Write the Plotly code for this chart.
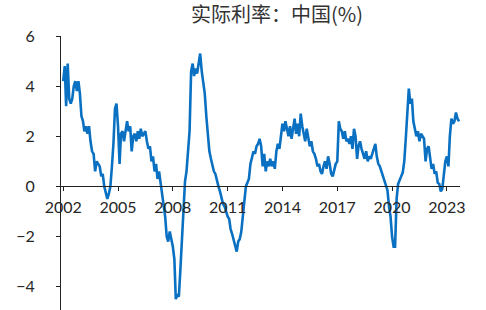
import pandas as pd
import plotly.graph_objects as go

# Monthly real interest rate, China (%), Jan 2002 - Sep 2023
start_month = "2002-01-01"
v2002 = [4.2, 4.8, 3.2, 4.9, 3.5, 3.3, 3.5, 4.0, 4.2, 3.8, 4.2, 3.7]
v2003 = [2.8, 2.6, 2.2, 2.4, 2.1, 2.4, 1.8, 1.4, 1.3, 0.6, 1.0, 0.9]
v2004 = [0.8, 0.4, 0.5, 0.0, -0.2, -0.5, -0.3, 0.0, 0.8, 1.7, 3.1, 3.3]
v2005 = [2.4, 0.9, 2.1, 2.2, 1.8, 2.3, 2.6, 2.2, 2.4, 1.4, 2.0, 2.1]
v2006 = [1.8, 2.2, 1.9, 2.3, 2.0, 2.1, 2.2, 1.8, 1.5, 1.6, 1.0, 1.2]
v2007 = [0.6, 0.9, 0.3, 0.6, 0.1, -0.2, -0.7, -1.2, -2.0, -2.2, -1.8, -2.1]
v2008 = [-2.4, -2.9, -4.5, -4.3, -4.4, -3.3, -2.0, -0.8, 0.2, 0.6, 1.5, 2.2]
v2009 = [4.6, 4.9, 4.4, 4.7, 4.5, 4.9, 5.3, 4.6, 4.2, 3.7, 2.8, 2.0]
v2010 = [1.4, 1.1, 0.8, 0.6, 0.5, 0.2, 0.0, -0.2, -0.5, -0.7, -0.8, -1.0]
v2011 = [-1.2, -1.3, -1.7, -1.9, -2.1, -2.4, -2.6, -2.2, -2.1, -1.8, -1.3, -0.6]
v2012 = [0.0, 0.2, 0.3, 0.9, 1.1, 1.4, 1.3, 1.6, 1.7, 1.9, 1.6, 0.8]
v2013 = [1.3, 0.6, 1.0, 0.8, 1.1, 0.8, 1.0, 0.7, 1.4, 1.7, 1.5, 2.1]
v2014 = [2.5, 2.2, 2.6, 2.3, 2.0, 2.4, 1.9, 2.3, 2.7, 2.1, 2.5, 2.0]
v2015 = [2.9, 2.4, 2.1, 1.8, 2.3, 1.9, 1.6, 1.8, 1.4, 1.3, 1.1, 0.8]
v2016 = [0.9, 0.6, 0.5, 0.8, 1.0, 0.7, 1.2, 0.9, 0.5, 0.4, 0.7, 0.9]
v2017 = [1.0, 2.6, 2.3, 2.2, 1.9, 2.2, 1.8, 1.9, 1.7, 2.0, 1.5, 2.3]
v2018 = [2.0, 1.1, 1.6, 1.8, 1.5, 1.3, 1.1, 1.4, 1.0, 1.2, 1.1, 1.3]
v2019 = [1.5, 1.7, 1.2, 0.9, 0.8, 0.6, 0.4, 0.25, 0.1, -0.15, -0.8, -1.2]
v2020 = [-2.0, -2.4, -2.4, -0.5, 0.1, 0.3, 0.4, 0.55, 1.0, 1.9, 3.2, 3.9]
v2021 = [3.3, 3.5, 2.6, 2.2, 2.0, 2.2, 1.8, 2.1, 2.0, 1.9, 1.0, 1.5]
v2022 = [1.6, 1.0, 0.7, 0.9, 0.5, 0.6, 0.15, 0.1, -0.2, -0.1, 0.4, 1.0]
v2023 = [1.2, 0.8, 2.0, 2.7, 2.5, 2.6, 2.95, 2.7, 2.6]

values = (v2002 + v2003 + v2004 + v2005 + v2006 + v2007 + v2008 + v2009 + v2010
          + v2011 + v2012 + v2013 + v2014 + v2015 + v2016 + v2017 + v2018 + v2019
          + v2020 + v2021 + v2022 + v2023)
dates = pd.date_range(start_month, periods=len(values), freq="MS")

tick_years = [2002, 2005, 2008, 2011, 2014, 2017, 2020, 2023]
y_ticks = [-4, -2, 0, 2, 4, 6]
y_tick_text = ["\u22124", "\u22122", "0", "2", "4", "6"]
title_text = "实际利率：中国(%)"

y_lo, y_hi = -4.93, 6

fig = go.Figure()
fig.add_trace(go.Scatter(
    x=dates, y=values, mode="lines",
    line=dict(color="#0A70C2", width=2.6),
    hoverinfo="skip",
))

axis_color = "#222222"
tick_font = dict(family="Lato, 'Open Sans', sans-serif", size=16, color="#262626")

fig.update_layout(
    width=486, height=310,
    margin=dict(l=61, r=26, t=36, b=0),
    paper_bgcolor="white", plot_bgcolor="white",
    showlegend=False,
    title=dict(
        text=title_text, x=277 / 486, xanchor="center", y=1 - 15 / 310, yanchor="middle",
        font=dict(family="Noto Sans CJK SC", size=20, color="#333333"),
    ),
    xaxis=dict(
        type="date",
        range=["2001-11-18", "2023-09-20"],
        tickmode="array",
        tickvals=[f"{y}-01-01" for y in tick_years],
        ticktext=[str(y) for y in tick_years],
        showgrid=False, zeroline=False,
        showline=True, linecolor=axis_color, linewidth=1,
        ticks="outside", ticklen=4, tickcolor=axis_color, tickwidth=1,
        tickfont=tick_font,
        anchor="free", position=(0 - y_lo) / (y_hi - y_lo),
        ticklabelstandoff=2,
    ),
    yaxis=dict(
        range=[y_lo, y_hi],
        tickmode="array", tickvals=y_ticks, ticktext=y_tick_text,
        showgrid=False, zeroline=False,
        showline=True, linecolor=axis_color, linewidth=1,
        ticks="outside", ticklen=4, tickcolor=axis_color, tickwidth=1,
        tickfont=tick_font,
        ticklabelstandoff=18,
    ),
)

fig.write_html("out.html")
